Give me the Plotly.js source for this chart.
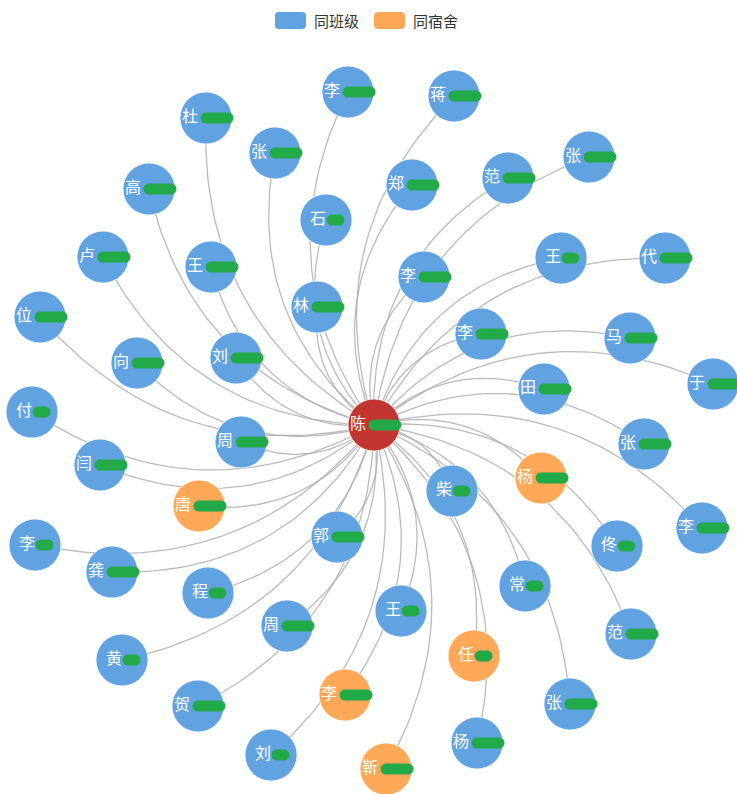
<!DOCTYPE html>
<html><head><meta charset="utf-8">
<script src="https://cdn.plot.ly/plotly-3.0.1.min.js"></script>
<style>
html,body{margin:0;padding:0;background:#fff}
#chart{width:737px;height:794px}
.js-line{stroke-linecap:round;stroke-linejoin:round}
</style>
</head><body><div id="chart"></div><script>
// ---------- data (hidden characters are redacted in the source) ----------
const categories = ["同班级", "同宿舍"];
const centerLabel = "陈";
const centerHidden = 2;
const centerX = 374;
const centerY = 425;

const nodeLabels = ["杜","李","蒋","张","郑","范","张","高","石","卢","王","王","代","李","位","林","李","马","向","刘","于","田","付","周","张","闫","杨","柴","唐","李","李","郭","龚","佟","常","程","王","周","范","任","黄","李","贺","张","杨","刘","靳"];
const nodeHidden = [2,2,2,2,2,2,2,2,1,2,2,1,2,2,2,2,2,2,2,2,2,2,1,2,2,2,2,1,2,2,1,2,2,1,1,1,1,2,2,1,1,2,2,2,2,1,2];
const nodeX = [206,348,454,275,412,508,589,149,326,103,211,561,665,424,40,317,481,630,137,236,713,544,32,241,644,100,541,452,199,702,35,337,112,617,525,208,401,287,631,474,122,345,198,570,477,271,386];
const nodeY = [118,92,96,153,185,178,157,189,220,257,267,258,258,277,317,307,334,338,363,358,384,389,412,442,444,465,478,491,506,528,545,537,572,546,586,593,611,626,634,656,660,695,706,704,743,755,769];
const nodeCat = [0,0,0,0,0,0,0,0,0,0,0,0,0,0,0,0,0,0,0,0,0,0,0,0,0,0,1,0,1,0,0,0,0,0,0,0,0,0,0,1,0,1,0,0,0,0,1];

// ---------- styles ----------
const catColors = ["#61a2e1", "#ffa858"];
const centerColor = "#c23531";
const redactColor = "#22aa48";
const edgeColor = "rgba(175,175,175,0.85)";
const fontFamily = "Noto Sans CJK SC, Noto Sans, sans-serif";
const nodeSize = 52;
const labelSize = 16;
const curveness = 0.3;

// ---------- edges: quadratic curves from the centre node ----------
const ex = [], ey = [];
for (let i = 0; i < nodeX.length; i++) {
  const x1 = centerX, y1 = centerY, x2 = nodeX[i], y2 = nodeY[i];
  const dx = x2 - x1, dy = y2 - y1;
  const cx = (x1 + x2) / 2 + curveness * dy;
  const cy = (y1 + y2) / 2 - curveness * dx;
  const n = 40;
  for (let k = 0; k <= n; k++) {
    const t = k / n, a = (1 - t) * (1 - t), b = 2 * t * (1 - t), c = t * t;
    ex.push(a * x1 + b * cx + c * x2);
    ey.push(a * y1 + b * cy + c * y2);
  }
  ex.push(null); ey.push(null);
}

const allX = [centerX].concat(nodeX);
const allY = [centerY].concat(nodeY);
const allLabels = [centerLabel].concat(nodeLabels);
const allHidden = [centerHidden].concat(nodeHidden);
const allColors = [centerColor].concat(nodeCat.map(c => catColors[c]));

// label positions: visible first char sits where it would in the full centred name
const tx = allX.map((x, i) => x - allHidden[i] * labelSize / 2);

// redaction strokes over the hidden characters
const rx = [], ry = [];
allX.forEach((x, i) => {
  const y = allY[i];
  if (allHidden[i] === 2) { rx.push(x + 0, x + 22, null); }
  else { rx.push(x + 6, x + 13, null); }
  ry.push(y, y, null);
});

const traces = [
  { type: "scatter", mode: "lines", x: ex, y: ey, hoverinfo: "skip", showlegend: false,
    line: { color: edgeColor, width: 1.3 } },
  { type: "scatter", mode: "markers", x: allX, y: allY, hoverinfo: "skip", showlegend: false,
    marker: { size: nodeSize, color: allColors, line: { color: "rgba(255,255,255,0.7)", width: 1 }, opacity: 1 } },
  { type: "scatter", mode: "text", x: tx, y: allY, text: allLabels, textposition: "middle center",
    hoverinfo: "skip", showlegend: false,
    textfont: { family: fontFamily, size: labelSize, color: "#ffffff" } },
  { type: "scatter", mode: "lines", x: rx, y: ry, hoverinfo: "skip", showlegend: false,
    line: { color: redactColor, width: 11 } }
];

function roundRect(x0, y0, x1, y1, r) {
  return `M${x0 + r},${y0} L${x1 - r},${y0} Q${x1},${y0} ${x1},${y0 + r} L${x1},${y1 - r} Q${x1},${y1} ${x1 - r},${y1} L${x0 + r},${y1} Q${x0},${y1} ${x0},${y1 - r} L${x0},${y0 + r} Q${x0},${y0} ${x0 + r},${y0} Z`;
}
const legendX = [275, 374];
const shapes = categories.map((c, i) => ({
  type: "path", xref: "x", yref: "y", path: roundRect(legendX[i], 12, legendX[i] + 31, 29, 4),
  fillcolor: catColors[i], line: { width: 0 }, layer: "above"
}));
const annotations = categories.map((c, i) => ({
  xref: "x", yref: "y", x: legendX[i] + 37, y: 20, text: c, showarrow: false,
  xanchor: "left", yanchor: "middle", font: { family: fontFamily, size: 15, color: "#333333" }
}));

const layout = {
  width: 737, height: 794,
  margin: { l: 0, r: 0, t: 0, b: 0, pad: 0 },
  paper_bgcolor: "#ffffff", plot_bgcolor: "#ffffff",
  xaxis: { range: [0, 737], visible: false, fixedrange: true },
  yaxis: { range: [794, 0], visible: false, fixedrange: true },
  showlegend: false,
  shapes: shapes,
  annotations: annotations
};

Plotly.newPlot("chart", traces, layout, { displayModeBar: false, staticPlot: true });
</script></body></html>
